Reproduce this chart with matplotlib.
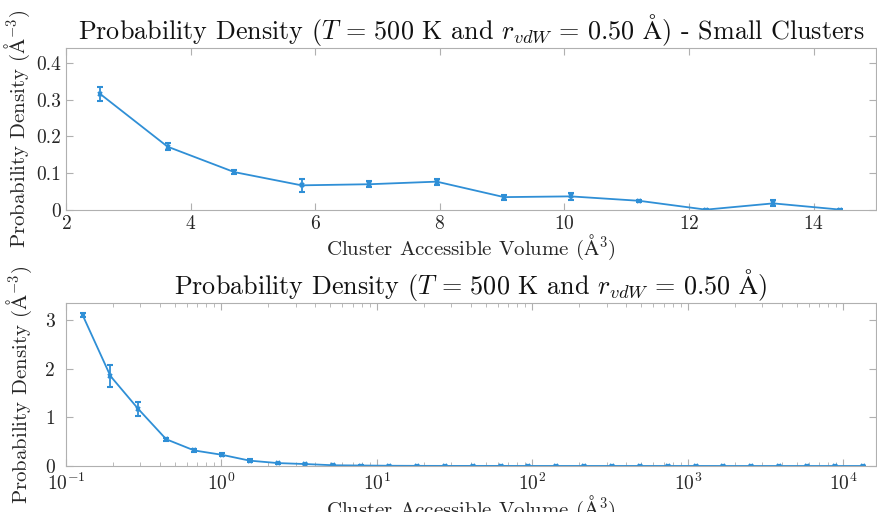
import matplotlib
matplotlib.use('Agg')
import matplotlib.pyplot as plt
import numpy as np

# MATLAB-ish look with computer modern fonts
plt.rcParams['font.family'] = ['cmr10', 'DejaVu Serif']
plt.rcParams['mathtext.fontset'] = 'cm'
plt.rcParams['axes.formatter.use_mathtext'] = True

blue = '#2f8fd6'
gray = '#262626'
spine = '#b0b0b0'

# small clusters (linear x)
small_vol = [2.55, 3.63, 4.70, 5.78, 6.87, 7.95, 9.03, 10.10, 11.20, 12.27, 13.35, 14.43]
small_pd = [0.315, 0.172, 0.103, 0.067, 0.070, 0.077, 0.035, 0.037, 0.025, 0.001, 0.018, 0.001]
small_err = [0.020, 0.010, 0.005, 0.018, 0.008, 0.008, 0.007, 0.010, 0.002, 0.001, 0.008, 0.001]

# all clusters (log x)
all_vol = [0.128, 0.193, 0.292, 0.441, 0.667, 1.007, 1.52, 2.30, 3.47, 5.25, 7.93, 11.97,
           18.1, 27.3, 41.3, 62.4, 94.2, 142, 215, 325, 491, 741, 1120, 1693, 2557,
           3862, 5834, 8812, 13330]
all_pd = [3.10, 1.85, 1.17, 0.55, 0.32, 0.23, 0.11, 0.06, 0.04, 0.015, 0.010, 0.005,
          0.003, 0.002, 0.002, 0.002, 0.001, 0.001, 0.001, 0.001, 0.001, 0.001, 0.001,
          0.0005, 0.0005, 0.0005, 0.0005, 0.0005, 0.0005]
all_err = [0.04, 0.22, 0.15, 0.03, 0.03, 0.03, 0.03, 0.01, 0.008, 0.005, 0.004, 0.002,
           0.002, 0.001, 0.001, 0.001, 0.001, 0.001, 0.001, 0.001, 0.001, 0.001, 0.001,
           0.001, 0.001, 0.001, 0.001, 0.001, 0.001]

xlab = r'Cluster Accessible Volume ($\mathrm{\AA}^3$)'
ylab = r'Probability Density ($\mathrm{\AA}^{-3}$)'
title = r'Probability Density ($T\,=\,500$ K and $r_{vdW}\,=\,0.50$ $\mathrm{\AA}$)'

fig = plt.figure(figsize=(8.77, 5.12), dpi=100)
ax1 = fig.add_axes([66/877, 1-210/512, 810/877, 162/512])
ax2 = fig.add_axes([66/877, 1-466/512, 810/877, 163/512])

def style(ax):
    for s in ax.spines.values():
        s.set_color(spine)
        s.set_linewidth(0.8)
    ax.tick_params(which='both', direction='in', top=True, right=True,
                   color=spine, labelcolor=gray, labelsize=14)
    ax.tick_params(which='major', length=5)
    ax.tick_params(which='minor', length=3)

ax1.errorbar(small_vol, small_pd, yerr=small_err, color=blue, lw=1.3,
             marker='x', ms=3, mew=1.5, capsize=2.5, elinewidth=1.3)
ax1.set_xlim(2, 15)
ax1.set_ylim(0, 0.44)
ax1.set_xticks([2, 4, 6, 8, 10, 12, 14])
ax1.set_yticks([0, 0.1, 0.2, 0.3, 0.4])
ax1.set_yticklabels(['0', '0.1', '0.2', '0.3', '0.4'])
style(ax1)
ax1.set_xlabel(xlab, fontsize=15, color=gray, labelpad=0)
ax1.set_ylabel(ylab, fontsize=15, color=gray, labelpad=3)
ax1.set_title(title + ' - Small Clusters', fontsize=18.8, color='#111111', pad=5)

ax2.errorbar(all_vol, all_pd, yerr=all_err, color=blue, lw=1.3,
             marker='x', ms=3, mew=1.5, capsize=2.5, elinewidth=1.3)
ax2.set_xscale('log')
ax2.set_xlim(0.1, 1.62e4)
ax2.set_ylim(0, 3.35)
ax2.set_yticks([0, 1, 2, 3])
ax2.set_yticklabels(['0', '1', '2', '3'])
style(ax2)
ax2.tick_params(axis='x', pad=5)
ax2.tick_params(axis='y', pad=8)
ax2.set_xlabel(xlab, fontsize=15, color=gray, labelpad=0)
ax2.set_ylabel(ylab, fontsize=15, color=gray, labelpad=8)
ax2.set_title(title, fontsize=18.8, color='#111111', pad=5)

fig.savefig('out.png', dpi=100)
